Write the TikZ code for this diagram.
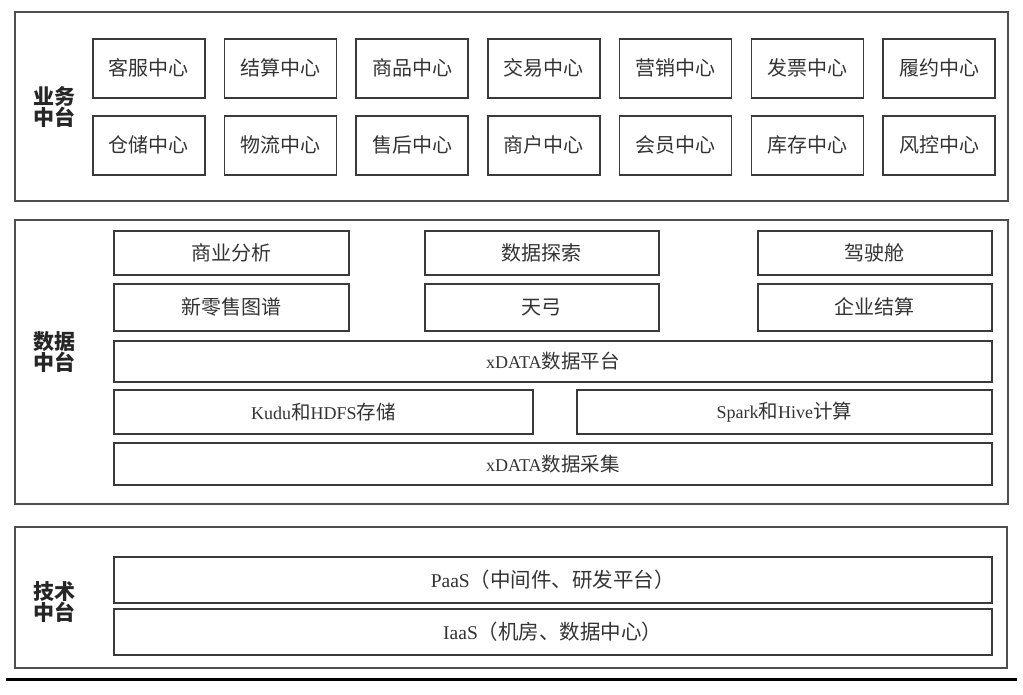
\documentclass[tikz,border=0pt]{standalone}
\usepackage{fontspec}
\setmainfont{Liberation Serif}
\newfontfamily\cjk{Noto Sans CJK SC}
\newcommand\zh[1]{{\cjk\fontsize{19.5}{19}\selectfont #1}}
\newcommand\zhb[1]{{\cjk\fontsize{20.5}{20}\selectfont #1}}
\definecolor{ln}{HTML}{3A3A3A}
\definecolor{tx}{HTML}{333333}
\tikzset{
  outerbox/.style={draw=ln!90, line width=1.7pt},
  cell/.style={draw=ln, line width=1.6pt, anchor=north west, inner sep=0pt,
    font=\cjk\fontsize{20}{20}\selectfont, text=tx},
  wide/.style={cell, font=\fontsize{18}{18}\selectfont},
  techrow/.style={cell, font=\fontsize{19.5}{19.5}\selectfont},
  lbl/.style={font=\cjk\bfseries\fontsize{21}{21}\selectfont, align=center, text=black!85, inner sep=0pt}
}
\begin{document}
\begin{tikzpicture}[x=1pt,y=-1pt]
\useasboundingbox (0,0) rectangle (1023,695);
% outer frames
\draw[outerbox] (15,12) rectangle (1008,201);
\draw[outerbox] (15,220) rectangle (1008,504);
\draw[outerbox] (15,527) rectangle (1007,668);
% labels
\node[lbl] (lb1) at (55,107) {业务\\中台};
\node[lbl] (lb2) at (55,352) {数据\\中台};
\node[lbl] (lb3) at (55,602) {技术\\中台};
% business centres
\foreach \t [count=\i] in {客服中心,结算中心,商品中心,交易中心,营销中心,发票中心,履约中心}
  \node[cell, minimum width=112pt, minimum height=59pt] (ra\i) at ({92+131.7*(\i-1)},38) {\t};
\foreach \t [count=\i] in {仓储中心,物流中心,售后中心,商户中心,会员中心,库存中心,风控中心}
  \node[cell, minimum width=112pt, minimum height=59pt] (rb\i) at ({92+131.7*(\i-1)},115) {\t};
% data platform
\node[cell, minimum width=235pt, minimum height=44pt] (da1) at (113,230) {商业分析};
\node[cell, minimum width=234pt, minimum height=44pt] (da2) at (424,230) {数据探索};
\node[cell, minimum width=234pt, minimum height=44pt] (da3) at (757,230) {驾驶舱};
\node[cell, minimum width=235pt, minimum height=47pt] (db1) at (113,283) {新零售图谱};
\node[cell, minimum width=234pt, minimum height=47pt] (db2) at (424,283) {天弓};
\node[cell, minimum width=234pt, minimum height=47pt] (db3) at (757,283) {企业结算};
\node[wide, minimum width=878pt, minimum height=41pt] (dc) at (113,340) {xDATA\zh{数据平台}};
\node[wide, minimum width=419pt, minimum height=44pt] (dd1) at (113,389) {Kudu\zh{和}HDFS\zh{存储}};
\node[wide, minimum width=415pt, minimum height=44pt] (dd2) at (576,389) {Spark\zh{和}Hive\zh{计算}};
\node[wide, minimum width=878pt, minimum height=42pt] (de) at (113,442) {xDATA\zh{数据采集}};
% technology platform
\node[techrow, minimum width=878pt, minimum height=46pt] (ta) at (113,556) {PaaS\zhb{（中间件、研发平台）}};
\node[techrow, minimum width=878pt, minimum height=46pt] (tb) at (113,608) {IaaS\zhb{（机房、数据中心）}};
% bottom rule
\draw[line width=3pt, black] (6,679) -- (1017,679);
\end{tikzpicture}
\end{document}
